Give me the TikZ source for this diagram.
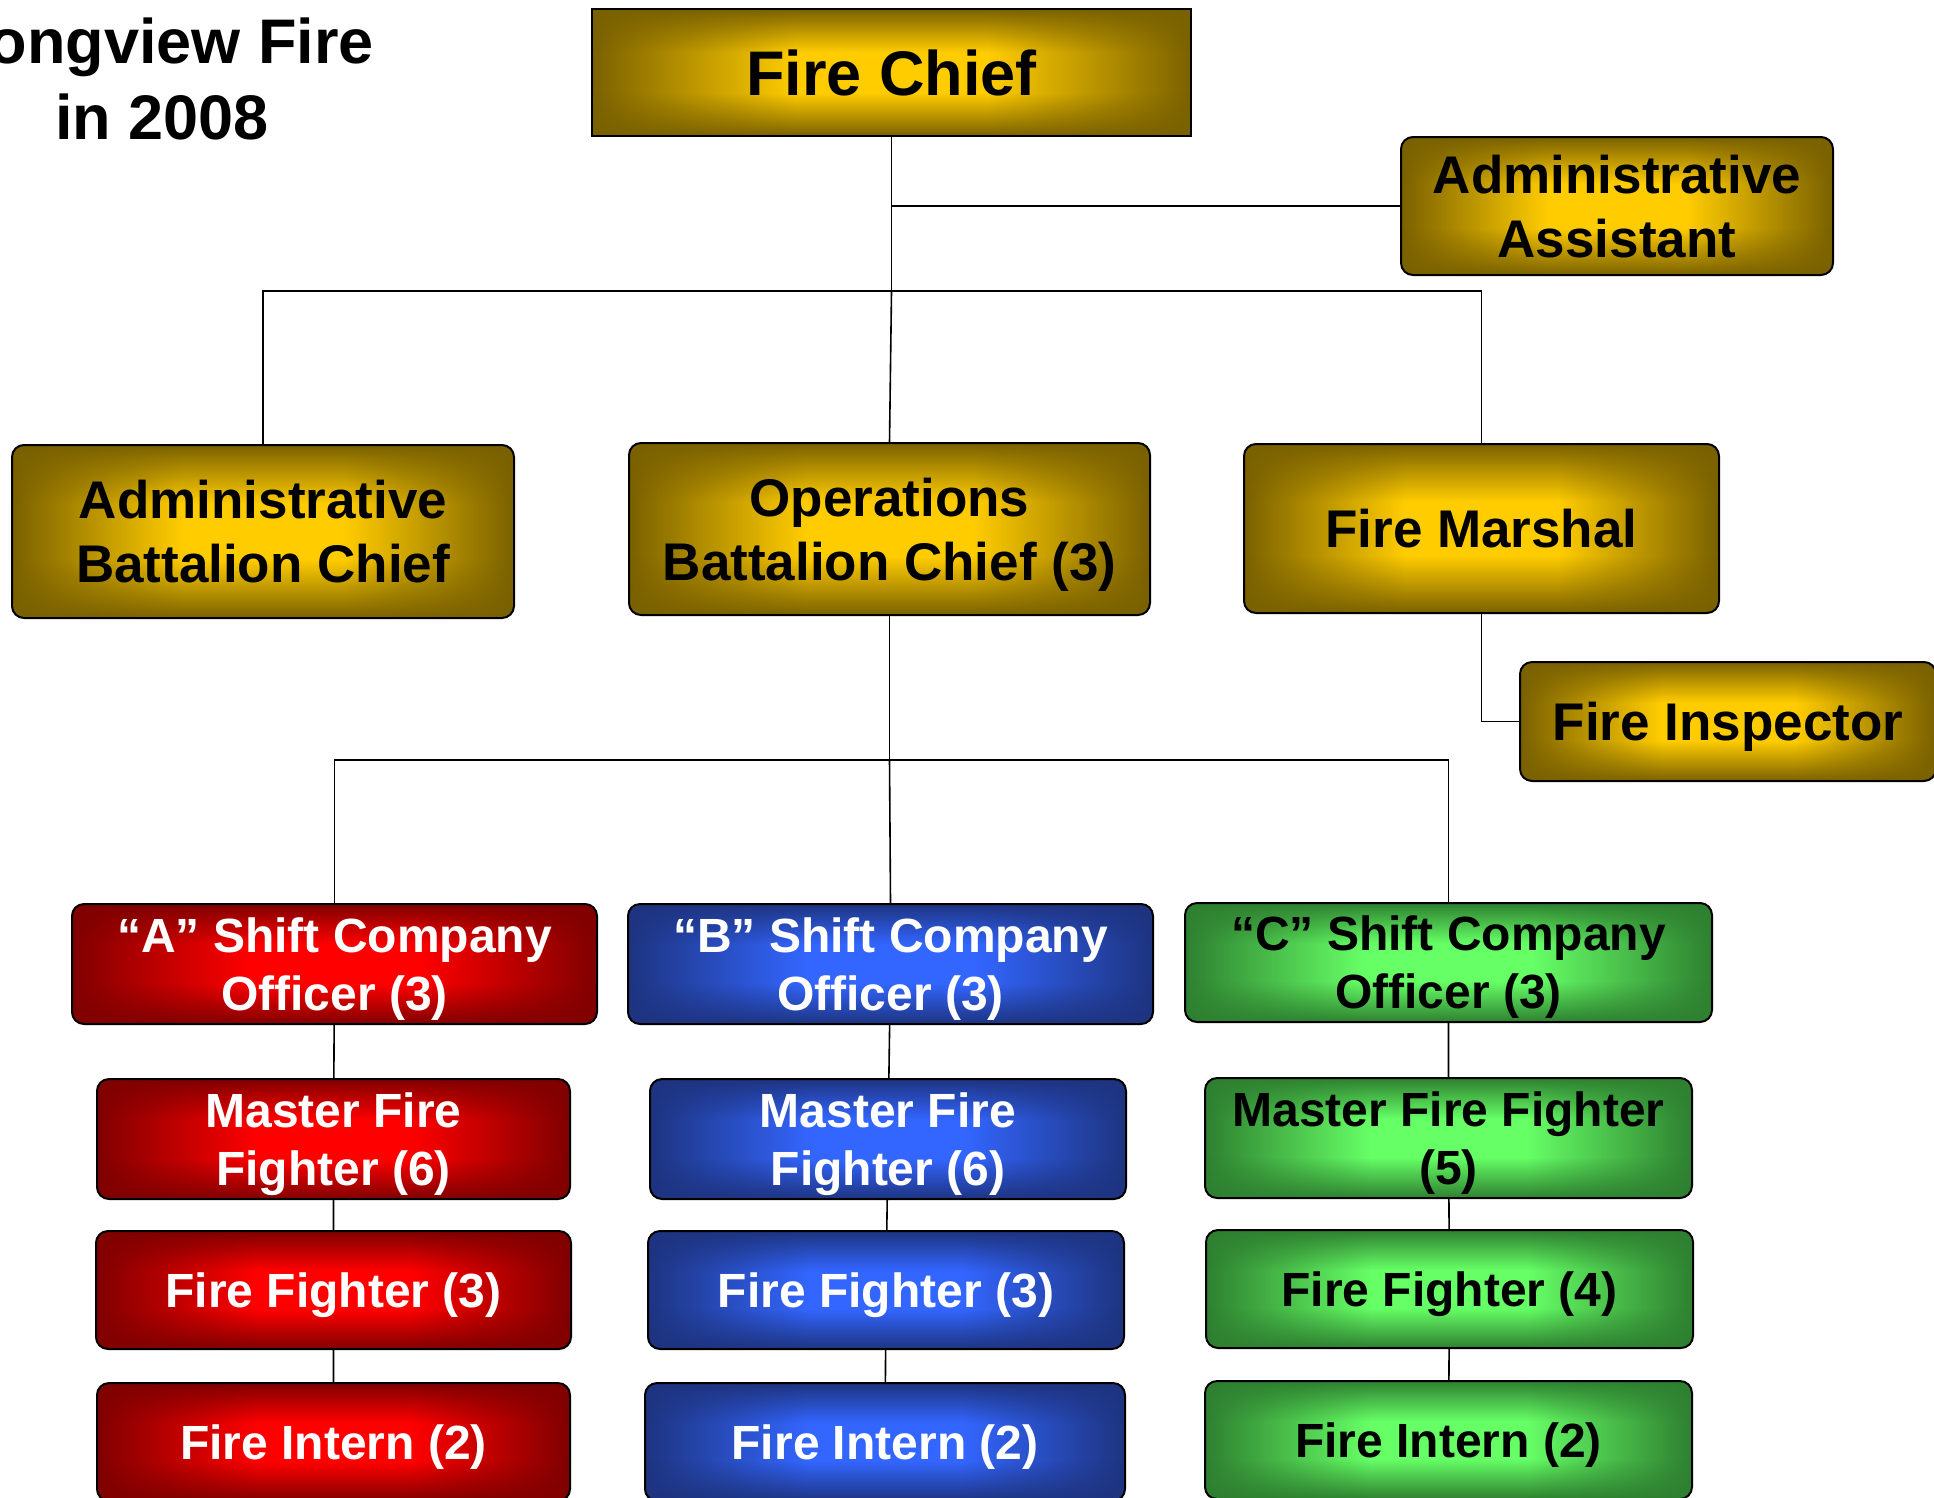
\documentclass[tikz,border=0pt]{standalone}
\usepackage{fontspec}
\setmainfont{Liberation Sans}
\usepackage{xcolor}
\usetikzlibrary{calc,positioning,fadings}

\definecolor{goldlight}{HTML}{FFCC00}
\definecolor{golddark}{HTML}{7A6100}
\definecolor{redlight}{HTML}{FF0000}
\definecolor{reddark}{HTML}{800000}
\definecolor{bluelight}{HTML}{3366FF}
\definecolor{bluedark}{HTML}{1E3480}
\definecolor{greenlight}{HTML}{66FF66}
\definecolor{greendark}{HTML}{2E8030}

\pgfdeclarehorizontalshading{goldh}{100bp}{color(0bp)=(golddark); color(25bp)=(golddark); color(42bp)=(goldlight); color(58bp)=(goldlight); color(75bp)=(golddark); color(100bp)=(golddark)}
\pgfdeclarehorizontalshading{redh}{100bp}{color(0bp)=(reddark); color(25bp)=(reddark); color(42bp)=(redlight); color(58bp)=(redlight); color(75bp)=(reddark); color(100bp)=(reddark)}
\pgfdeclarehorizontalshading{blueh}{100bp}{color(0bp)=(bluedark); color(25bp)=(bluedark); color(42bp)=(bluelight); color(58bp)=(bluelight); color(75bp)=(bluedark); color(100bp)=(bluedark)}
\pgfdeclarehorizontalshading{greenh}{100bp}{color(0bp)=(greendark); color(25bp)=(greendark); color(42bp)=(greenlight); color(58bp)=(greenlight); color(75bp)=(greendark); color(100bp)=(greendark)}
\pgfdeclareverticalshading{vbandshade}{100bp}{color(0bp)=(white); color(25bp)=(white); color(42bp)=(black); color(58bp)=(black); color(75bp)=(white); color(100bp)=(white)}
\pgfdeclarefading{vband}{\pgfuseshading{vbandshade}}

\begin{document}
\begin{tikzpicture}[x=1pt, y=-1pt, line width=1.6pt,
	post/.style={draw=black, line width=2pt, rounded corners=12pt, align=center, inner sep=0pt, shade},
	edges/.style={path picture={\fill[#1, path fading=vband] (path picture bounding box.south west) rectangle (path picture bounding box.north east);}},
	gold/.style={post, shading=goldh, edges=golddark, text=black, font=\bfseries\fontsize{53}{64}\selectfont, text height=38pt, text depth=0pt},
	gold2/.style={gold, text height=102pt},
	shiftbox/.style={post, font=\bfseries\fontsize{48}{58}\selectfont, text height=34.4pt, text depth=0pt},
	two/.style={text height=92.4pt},
	ashift/.style={shiftbox, shading=redh, edges=reddark, text=white},
	bshift/.style={shiftbox, shading=blueh, edges=bluedark, text=white},
	cshift/.style={shiftbox, shading=greenh, edges=greendark, text=black}]
	\path[use as bounding box, clip] (0,0) rectangle (1934,1497);

	\node (title) at (162,79) [align=center, font=\bfseries\fontsize{63}{76}\selectfont] {Longview Fire\\in 2008};

	\node (chief) at (891.5,72.5) [gold, rounded corners=0pt, minimum width=599pt, minimum height=127pt, font=\bfseries\fontsize{63}{76}\selectfont, text height=45pt] {Fire Chief};
	\node (assist) at (1617,206) [gold2, minimum width=432pt, minimum height=138pt] {Administrative\\Assistant};
	\node (adminbc) at (263,531.5) [gold2, minimum width=502pt, minimum height=173pt] {Administrative\\Battalion Chief};
	\node (opsbc) at (889.5,529) [gold2, minimum width=521pt, minimum height=172pt] {Operations\\Battalion Chief (3)};
	\node (marshal) at (1481.5,528.5) [gold, minimum width=475pt, minimum height=169pt] {Fire Marshal};
	\node (inspector) at (1728,721.5) [gold, minimum width=416pt, minimum height=119pt] {Fire Inspector};

	% shift columns
	\node (aoff) at (334.5,964) [ashift, two, minimum width=525pt, minimum height=120pt] {“A” Shift Company\\Officer (3)};
	\node (amaster) at (333.5,1139) [ashift, two, minimum width=473pt, minimum height=120pt] {Master Fire\\Fighter (6)};
	\node (aff) at (333.5,1290) [ashift, minimum width=475pt, minimum height=118pt] {Fire Fighter (3)};
	\node (aint) at (333.5,1442) [ashift, minimum width=473pt, minimum height=118pt] {Fire Intern (2)};

	\node (boff) at (890.5,964) [bshift, two, minimum width=525pt, minimum height=120pt] {“B” Shift Company\\Officer (3)};
	\node (bmaster) at (888,1139) [bshift, two, minimum width=476pt, minimum height=120pt] {Master Fire\\Fighter (6)};
	\node (bff) at (886,1290) [bshift, minimum width=476pt, minimum height=118pt] {Fire Fighter (3)};
	\node (bint) at (885,1442) [bshift, minimum width=480pt, minimum height=118pt] {Fire Intern (2)};

	\node (coff) at (1448.5,962.5) [cshift, two, minimum width=527pt, minimum height=119pt] {“C” Shift Company\\Officer (3)};
	\node (cmaster) at (1448.5,1138) [cshift, two, minimum width=487pt, minimum height=120pt] {Master Fire Fighter\\(5)};
	\node (cff) at (1449.5,1289) [cshift, minimum width=487pt, minimum height=118pt] {Fire Fighter (4)};
	\node (cint) at (1448.5,1440) [cshift, minimum width=487pt, minimum height=118pt] {Fire Intern (2)};

	\coordinate (bus1) at (891.5,291);
	\coordinate (bus2) at (889.5,760);
	\draw (chief.south) |- (assist.west);
	\draw (chief.south) -- (bus1) -| (adminbc.north);
	\draw (bus1) -| (marshal.north);
	\draw (bus1) -- (opsbc.north);
	\draw (marshal.south) |- (inspector.west);
	\draw (opsbc.south) -- (bus2) -| (aoff.north);
	\draw (bus2) -- (boff.north);
	\draw (bus2) -| (coff.north);
	\draw (aoff) -- (amaster) (amaster) -- (aff) (aff) -- (aint);
	\draw (boff) -- (bmaster) (bmaster) -- (bff) (bff) -- (bint);
	\draw (coff) -- (cmaster) (cmaster) -- (cff) (cff) -- (cint);
\end{tikzpicture}
\end{document}
